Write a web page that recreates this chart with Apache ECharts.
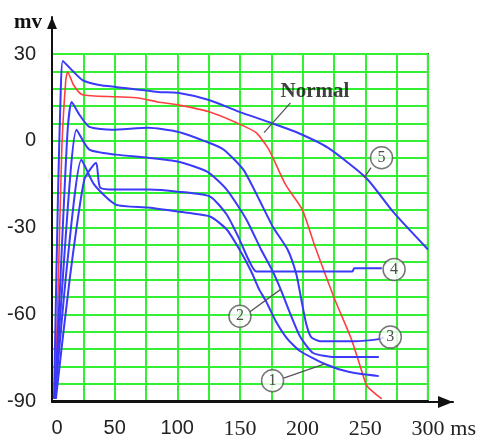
<!DOCTYPE html>
<html><head><meta charset="utf-8">
<script src="https://cdn.jsdelivr.net/npm/echarts@6/dist/echarts.min.js"></script>
<style>html,body{margin:0;padding:0;background:#fff}#c{width:479px;height:440px}</style>
</head><body><div id="c"></div>
<script>
// x in ms, y in mV
const xTickLabels = [0, 50, 100, 150, 200, 250, 300];
const yTickLabels = [30, 0, -30, -60, -90];

const normal = [[2.3,-89.3],[4.7,-54.8],[7.8,-3.1],[11,21],[12.5,23.8],[17.2,19.3],[24.3,15.9],[50.9,15.2],[68.9,14.8],[84.6,13.4],[100.3,12.4],[125.3,10],[147.3,6.2],[162.9,2.8],[173.1,-3.1],[186.4,-15.2],[199.7,-23.8],[209.9,-36.6],[225.6,-54.8],[238.9,-68.6],[246.7,-79],[251.4,-84.8],[263.2,-89.3]];
const curve5 = [[1.6,-89.3],[4.7,-20.3],[7,17.6],[8.6,27.6],[14.1,25.2],[24.3,21],[37.6,19.3],[50.9,18.6],[84.6,16.9],[100.3,16.6],[125.3,14.1],[149.6,10],[174.7,6.2],[194.3,3.1],[220.1,-2.4],[250.6,-12.8],[272.6,-24.8],[300,-37.6]];
const curve3 = [[2.3,-89.3],[7.8,-37.6],[12.5,3.8],[15.7,13.4],[21.9,9],[29.8,4.8],[47.8,3.8],[76.8,4.5],[100.3,3.1],[125.3,-0.7],[137.1,-3.1],[152.7,-10],[165.3,-20.3],[176.2,-29.7],[188,-37.6],[195,-46.2],[198.9,-54.8],[202.9,-63.4],[206.8,-67.9],[213.8,-69.3],[241.2,-69.3],[260.8,-68.6],[264.7,-67.9]];
const curve4 = [[3.1,-89.3],[14.1,-47.9],[25.8,-13.4],[35.2,-7.6],[38.4,-16.2],[50.9,-16.9],[76.8,-16.9],[100.3,-17.6],[126.1,-19.3],[139.4,-25.5],[149.6,-34.1],[156.7,-41],[163,-45.2],[194.3,-45.2],[239.7,-45.2],[241.2,-44.1],[263.2,-44.1]];
const curve2 = [[2.3,-89.3],[10.2,-37.6],[19.6,3.8],[29.8,-3.1],[50.9,-4.8],[76.8,-5.9],[100.3,-7.2],[123.8,-10.7],[139.4,-16.9],[155.1,-27.2],[166.8,-37.6],[176.2,-45.2],[182.5,-51.4],[190.3,-60],[198.2,-67.9],[208.4,-73.4],[225.6,-74.8],[260.8,-74.8]];
const curve1 = [[2.3,-89.3],[12.5,-41],[23.5,-6.6],[33.7,-15.2],[50.9,-22.1],[76.8,-23.1],[100.3,-24.5],[126.1,-26.2],[139.4,-30.7],[149.6,-37.6],[159,-45.2],[165.3,-51.4],[170.8,-55.5],[178.6,-62.4],[188,-68.6],[198.2,-72.8],[217.7,-77.2],[237.3,-80],[260.8,-81.4]];

const badgeText = ['1','2','3','4','5'];
const badgeMs = [176, 150, 270, 273, 263];
const badgeMv = [-83, -60.7, -67.9, -44.5, -5.9];
const leaderSegments = [
  [[169.2,2.8],[190.3,13.1]],
  [[249.1,-12.8],[254.6,-9.3]],
  [[157.4,-59.3],[182.5,-51.4]],
  [[184.8,-82.1],[217.7,-77.2]]
];
const normalLabel = ['Normal', 209.9, 16.9];

const chart = echarts.init(document.getElementById('c'), null, {renderer: 'canvas'});
const blue = '#3a3af8';
const green = '#33f033';
function curve(name, data, color, w) {
  return {name, type: 'line', data, xAxisIndex: 0, yAxisIndex: 0, symbol: 'none', smooth: 0.2,
    lineStyle: {color, width: w}, z: 3, silent: true, animation: false};
}
chart.setOption({
  animation: false,
  backgroundColor: '#fff',
  grid: [
    {left: 52, top: 54, width: 383, height: 348, show: true, borderColor: '#333', borderWidth: 2, backgroundColor: 'transparent'},
    {left: 52, top: 17, width: 401, height: 385, show: false}
  ],
  xAxis: [
    {type: 'value', gridIndex: 0, min: 0, max: 300, interval: 25,
     axisLine: {show: true, onZero: false, lineStyle: {color: '#111', width: 2}}, axisTick: {show: false},
     splitLine: {show: true, lineStyle: {color: green, width: 2}},
     axisLabel: {margin: 17, color: '#222',
       formatter: v => (v % 50 === 0 && xTickLabels.includes(v)) ? (v === 0 ? '{z|0}' : v <= 100 ? '{a|' + v + '}' : '{b|' + v + '}') : '',
       rich: {z: {fontFamily: 'Liberation Sans', fontSize: 20, color: '#222', padding: [0, 0, 0, 10]},
              a: {fontFamily: 'Liberation Sans', fontSize: 20, color: '#222'},
              b: {fontFamily: 'Liberation Serif', fontSize: 22, color: '#222'}}},
     name: 'ms', nameLocation: 'end', nameGap: 18,
     nameTextStyle: {fontFamily: 'Liberation Serif', fontSize: 22, color: '#222', align: 'left', verticalAlign: 'top', padding: [17, 0, 0, 0]}},
    {type: 'value', gridIndex: 1, min: 0, max: 1, axisLabel: {show: false}, splitLine: {show: false}, axisTick: {show: false},
     axisLine: {show: true, onZero: false, symbol: ['none', 'triangle'], symbolSize: [12, 15], symbolOffset: [0, -7.5], lineStyle: {color: '#111', width: 2}}}
  ],
  yAxis: [
    {type: 'value', gridIndex: 0, min: -90, max: 30, interval: 6,
     axisLine: {show: true, onZero: false, lineStyle: {color: '#111', width: 2}}, axisTick: {show: false},
     splitLine: {show: true, lineStyle: {color: green, width: 2}},
     axisLabel: {margin: 16, color: '#222', fontFamily: 'Liberation Sans', fontSize: 20, verticalAlign: 'middle', showMaxLabel: true,
       formatter: v => yTickLabels.includes(v) ? String(v) : ''}},
    {type: 'value', gridIndex: 1, min: 0, max: 1, axisLabel: {show: false}, splitLine: {show: false}, axisTick: {show: false},
     axisLine: {show: true, onZero: false, symbol: ['none', 'triangle'], symbolSize: [10, 12], symbolOffset: [0, -6], lineStyle: {color: '#111', width: 2}},
     name: 'mv', nameLocation: 'end', nameGap: -6,
     nameTextStyle: {fontFamily: 'Liberation Serif', fontWeight: 'bold', fontSize: 21, color: '#111', align: 'right', verticalAlign: 'middle', padding: [0, 10, 0, 0]}}
  ],
  series: [
    curve('Normal', normal, '#ff4040', 1.6),
    curve('5', curve5, blue, 2),
    curve('4', curve4, blue, 2),
    curve('3', curve3, blue, 2),
    curve('2', curve2, blue, 2),
    curve('1', curve1, blue, 2),
    {type: 'lines', coordinateSystem: 'cartesian2d', xAxisIndex: 0, yAxisIndex: 0, z: 4, silent: true,
     lineStyle: {color: '#555', width: 1.3, opacity: 1},
     data: leaderSegments.map(c => ({coords: c}))},
    {type: 'scatter', xAxisIndex: 0, yAxisIndex: 0, z: 5, silent: true, symbol: 'circle', symbolSize: 22,
     itemStyle: {color: '#fff', borderColor: '#555', borderWidth: 1.5},
     label: {show: true, position: 'inside', formatter: p => p.value[2], fontFamily: 'Liberation Serif', fontSize: 16, color: '#222'},
     data: badgeText.map((t, i) => [badgeMs[i], badgeMv[i], t])},
    {type: 'scatter', xAxisIndex: 0, yAxisIndex: 0, z: 5, silent: true, symbolSize: 0,
     label: {show: true, position: 'inside', formatter: p => p.value[2], fontFamily: 'Liberation Serif', fontWeight: 'bold', fontSize: 21, color: '#111'},
     data: [[normalLabel[1], normalLabel[2], normalLabel[0]]]}
  ]
});
</script></body></html>
